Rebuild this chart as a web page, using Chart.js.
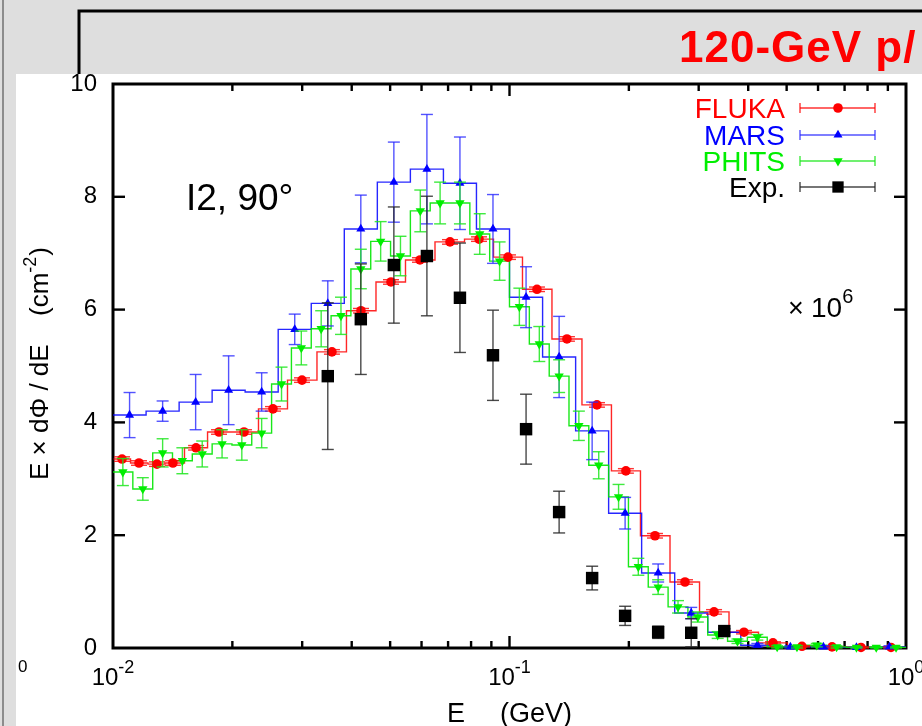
<!DOCTYPE html>
<html>
<head>
<meta charset="utf-8">
<script src="https://cdn.jsdelivr.net/npm/chart.js@4.4.0/dist/chart.umd.min.js"></script>
<style>
  html, body { margin: 0; padding: 0; background: #dedede; }
  #wrap { width: 922px; height: 726px; }
</style>
</head>
<body>
<div id="wrap"><canvas id="spectrum" width="922" height="726"></canvas></div>
<script>
// Neutron spectra at I2, 90 deg: E x dPhi/dE in units of 1e6 cm^-2, E in GeV

const flukaE = [0.01054, 0.01163, 0.01291, 0.01416, 0.0162, 0.01851, 0.0214, 0.02532, 0.02997, 0.03566,
  0.04221, 0.05025, 0.05946, 0.07079, 0.08378, 0.09913, 0.1173, 0.1396, 0.1662, 0.1966,
  0.2328, 0.2771, 0.328, 0.3903, 0.4619, 0.5466, 0.6508, 0.7701, 0.9166];
const flukaY = [3.35, 3.28, 3.26, 3.28, 3.55, 3.83, 3.83, 4.24, 4.75, 5.25,
  5.98, 6.49, 6.88, 7.20, 7.25, 6.93, 6.36, 5.48, 4.31, 3.14,
  1.99, 1.17, 0.64, 0.28, 0.09, 0.03, 0.02, 0.01, 0.01];
const flukaErr = [0.04, 0.04, 0.04, 0.04, 0.04, 0.04, 0.04, 0.04, 0.04, 0.04,
  0.04, 0.04, 0.04, 0.04, 0.04, 0.04, 0.04, 0.04, 0.04, 0.04,
  0.04, 0.04, 0.04, 0.03, 0.02, 0.01, 0.01, 0.01, 0.01];

const marsE = [0.01101, 0.01334, 0.01616, 0.01957, 0.02371, 0.02873, 0.03481, 0.04217, 0.05109, 0.0619,
  0.07499, 0.09085, 0.1101, 0.1334, 0.1616, 0.1957, 0.2371, 0.2873, 0.3481, 0.4217,
  0.5109, 0.619, 0.7499, 0.9085];
const marsY = [4.13, 4.20, 4.36, 4.57, 4.54, 5.65, 6.11, 7.43, 8.26, 8.49,
  8.24, 7.43, 6.22, 5.16, 3.85, 2.39, 1.33, 0.62, 0.28, 0.05,
  0.02, 0.02, 0.01, 0.02];
const marsErr = [0.40, 0.18, 0.49, 0.61, 0.34, 0.27, 0.40, 0.60, 0.71, 0.97,
  0.82, 0.61, 0.54, 0.72, 0.51, 0.28, 0.16, 0.10, 0.06, 0.03,
  0.02, 0.02, 0.01, 0.02];

const phitsE = [0.01059, 0.01189, 0.01334, 0.01496, 0.01679, 0.01884, 0.02113, 0.02371, 0.02661, 0.02985,
  0.0335, 0.03758, 0.04217, 0.04732, 0.05309, 0.05957, 0.06683, 0.07499, 0.08414, 0.09441,
  0.1059, 0.1189, 0.1334, 0.1496, 0.1679, 0.1884, 0.2113, 0.2371, 0.2661, 0.2985,
  0.335, 0.3758, 0.4217, 0.4732, 0.5309, 0.5957, 0.6683, 0.7499, 0.8414, 0.9441];
const phitsY = [3.12, 2.82, 3.46, 3.32, 3.44, 3.62, 3.60, 3.81, 4.68, 5.32,
  5.66, 5.89, 6.72, 7.21, 6.95, 7.75, 7.89, 7.89, 7.34, 6.86,
  6.05, 5.39, 4.82, 3.94, 3.24, 2.68, 1.44, 1.08, 0.73, 0.55,
  0.23, 0.12, 0.19, 0.02, 0.02, 0.05, 0.02, 0.01, 0.01, 0.01];
const phitsErr = [0.24, 0.20, 0.25, 0.23, 0.23, 0.25, 0.27, 0.26, 0.30, 0.30,
  0.32, 0.33, 0.35, 0.35, 0.35, 0.37, 0.37, 0.37, 0.36, 0.34,
  0.33, 0.31, 0.29, 0.26, 0.24, 0.22, 0.15, 0.13, 0.11, 0.09,
  0.06, 0.04, 0.05, 0.02, 0.02, 0.03, 0.02, 0.01, 0.01, 0.01];

const expE = [0.03481, 0.04217, 0.05109, 0.0619, 0.07499, 0.09085, 0.1101, 0.1334, 0.1616, 0.1957,
  0.2371, 0.2873, 0.3481];
const expY = [4.82, 5.83, 6.79, 6.95, 6.21, 5.19, 3.88, 2.41, 1.24, 0.57,
  0.28, 0.27, 0.30];
const expErr = [1.30, 0.98, 1.03, 1.06, 0.97, 0.80, 0.62, 0.37, 0.21, 0.17,
  0.11, 0.25, 0.04];

const xTickValues = [0.01, 0.1, 1];
const xTickExponents = ['-2', '-1', '0'];
const yTickValues = [0, 2, 4, 6, 8, 10];

const FONT = '"Liberation Sans", Arial, sans-serif';

const series = [
  { label: 'FLUKA', color: '#ff0000', line: 'rgba(255,0,0,0.85)', bar: 'rgba(255,0,0,0.8)',
    xs: flukaE, ys: flukaY, err: flukaErr, style: 'circle', radius: 4.8, rotation: 0, cap: 8, step: true, z: 4 },
  { label: 'MARS', color: '#0000ff', line: 'rgba(0,0,255,0.85)', bar: 'rgba(40,40,255,0.8)',
    xs: marsE, ys: marsY, err: marsErr, style: 'triangle', radius: 5.2, rotation: 0, cap: 6, step: true, z: 3 },
  { label: 'PHITS', color: '#00ee00', line: 'rgba(0,230,0,0.9)', bar: 'rgba(30,230,30,0.85)',
    xs: phitsE, ys: phitsY, err: phitsErr, style: 'triangle', radius: 5.4, rotation: 180, cap: 6, step: true, z: 2 },
  { label: 'Exp.', color: '#000000', line: 'rgba(0,0,0,0.7)', bar: 'rgba(40,40,40,0.85)',
    xs: expE, ys: expY, err: expErr, style: 'rect', radius: 8.8, rotation: 0, cap: 6, step: false, z: 1 }
];

// histogram outline: each value spans its bin, edges halfway (in log) between bin centres
function stepPoints(xs, ys) {
  const pts = [];
  for (let i = 0; i < xs.length; i++) {
    const lo = i === 0 ? xs[0] * Math.sqrt(xs[0] / xs[1]) : Math.sqrt(xs[i - 1] * xs[i]);
    const hi = i === xs.length - 1 ? xs[i] * Math.sqrt(xs[i] / xs[i - 1]) : Math.sqrt(xs[i] * xs[i + 1]);
    pts.push({ x: lo, y: ys[i] }, { x: hi, y: ys[i] });
  }
  return pts;
}

const datasets = [];
series.forEach(s => {
  if (s.step) {
    datasets.push({
      label: s.label + ' hist',
      data: stepPoints(s.xs, s.ys),
      showLine: true,
      borderColor: s.line,
      borderWidth: 1.4,
      pointRadius: 0,
      fill: false,
      order: 10 + s.z
    });
  }
  datasets.push({
    label: s.label,
    data: s.xs.map((x, i) => ({ x: x, y: s.ys[i] })),
    showLine: false,
    pointStyle: s.style,
    pointRadius: s.radius,
    pointRotation: s.rotation,
    pointBackgroundColor: s.color,
    pointBorderWidth: 0,
    clip: false,
    order: s.z,
    errors: s.err,
    barColor: s.bar,
    cap: s.cap
  });
});

function line(ctx, x1, y1, x2, y2) {
  ctx.beginPath();
  ctx.moveTo(x1, y1);
  ctx.lineTo(x2, y2);
  ctx.stroke();
}

// text with a raised exponent, e.g. 10^-2; returns the total width
function powerText(ctx, base, exp, x, y, size, supSize, align) {
  ctx.font = size + 'px ' + FONT;
  const wb = ctx.measureText(base).width;
  ctx.font = supSize + 'px ' + FONT;
  const we = ctx.measureText(exp).width;
  let x0 = x;
  if (align === 'center') x0 = x - (wb + we) / 2;
  ctx.font = size + 'px ' + FONT;
  ctx.fillText(base, x0, y);
  ctx.font = supSize + 'px ' + FONT;
  ctx.fillText(exp, x0 + wb, y - size * 0.5);
  return wb + we;
}

const decor = {
  id: 'decor',
  beforeDraw(chart) {
    const ctx = chart.ctx;
    ctx.save();
    ctx.fillStyle = '#dedede';
    ctx.fillRect(0, 0, 922, 726);
    ctx.fillStyle = '#8c8c8c';
    ctx.fillRect(2, 0, 2, 726);
    ctx.fillStyle = '#ffffff';
    ctx.fillRect(16, 74, 906, 652);

    // header box edge
    ctx.strokeStyle = '#000';
    ctx.lineWidth = 3;
    ctx.beginPath();
    ctx.moveTo(79, 74);
    ctx.lineTo(79, 11);
    ctx.lineTo(922, 11);
    ctx.stroke();

    ctx.fillStyle = '#ff0000';
    ctx.font = 'bold 44px ' + FONT;
    ctx.textBaseline = 'alphabetic';
    ctx.letterSpacing = '1px';
    ctx.fillText('120-GeV p/', 679, 62);
    ctx.restore();
  },
  beforeDatasetsDraw(chart) {
    const ctx = chart.ctx;
    const { left, right, top, bottom } = chart.chartArea;
    const xs = chart.scales.x, ys = chart.scales.y;
    ctx.save();
    ctx.strokeStyle = '#000';
    ctx.lineWidth = 2.4;
    yTickValues.forEach(v => {
      if (v <= 0 || v >= 10) return;
      const py = ys.getPixelForValue(v);
      line(ctx, left, py, left + 12, py);
      line(ctx, right, py, right - 12, py);
    });
    for (let d = 0; d < xTickValues.length - 1; d++) {
      for (let m = 1; m <= 9; m++) {
        const v = xTickValues[d] * m;
        const px = xs.getPixelForValue(v);
        const len = m === 1 ? 12 : 7;
        if (m === 1 && d === 0) continue;
        line(ctx, px, bottom, px, bottom - len);
        line(ctx, px, top, px, top + len);
      }
    }
    ctx.lineWidth = 3;
    ctx.strokeRect(left, top, right - left, bottom - top);
    ctx.restore();
  },
  beforeDatasetDraw(chart, args) {
    const ds = chart.data.datasets[args.index];
    if (!ds.errors) return;
    const ctx = chart.ctx;
    const ys = chart.scales.y;
    ctx.save();
    ctx.strokeStyle = ds.barColor;
    ctx.lineWidth = 1.4;
    args.meta.data.forEach((pt, i) => {
      const v = ds.data[i].y, e = ds.errors[i];
      const y1 = ys.getPixelForValue(v + e), y2 = ys.getPixelForValue(v - e);
      line(ctx, pt.x, y1, pt.x, y2);
      line(ctx, pt.x - ds.cap, y1, pt.x + ds.cap, y1);
      line(ctx, pt.x - ds.cap, y2, pt.x + ds.cap, y2);
    });
    ctx.restore();
  },
  afterDraw(chart) {
    const ctx = chart.ctx;
    const xs = chart.scales.x;
    ctx.save();
    ctx.fillStyle = '#000';
    ctx.textBaseline = 'alphabetic';
    ctx.textAlign = 'left';

    // x tick labels
    xTickValues.forEach((v, i) => {
      powerText(ctx, '10', xTickExponents[i], xs.getPixelForValue(v), 685, 24, 18, 'center');
    });

    // stray zero on the left margin
    ctx.font = '17px ' + FONT;
    ctx.fillText('0', 18, 672);

    // x title
    ctx.font = '27px ' + FONT;
    ctx.fillText('E', 447, 722);
    ctx.fillText('(GeV)', 500, 722);

    // y title, rotated
    ctx.save();
    ctx.translate(48, 480);
    ctx.rotate(-Math.PI / 2);
    ctx.font = '26px ' + FONT;
    ctx.fillText('E \u00d7 d\u03a6 / dE', 0, 0);
    ctx.fillText('(cm', 164, 0);
    const wc = ctx.measureText('(cm').width;
    ctx.font = '18px ' + FONT;
    ctx.fillText('-2', 164 + wc, -12);
    const ws = ctx.measureText('-2').width;
    ctx.font = '26px ' + FONT;
    ctx.fillText(')', 164 + wc + ws + 1, 0);
    ctx.restore();

    // annotations
    ctx.font = '37px ' + FONT;
    ctx.fillText('I2, 90\u00b0', 186, 210);
    ctx.font = '27px ' + FONT;
    ctx.fillText('\u00d7', 788, 317);
    powerText(ctx, '10', '6', 811, 317, 28, 20, 'left');

    // legend
    const rows = [108, 135, 161, 187];
    series.forEach((s, i) => {
      const y = rows[i];
      ctx.font = '28px ' + FONT;
      ctx.textAlign = 'right';
      ctx.fillStyle = s.color;
      ctx.fillText(s.label, 785, y + 10);
      ctx.textAlign = 'left';
      ctx.strokeStyle = s.bar;
      ctx.lineWidth = 1.4;
      line(ctx, 800, y, 875, y);
      line(ctx, 800, y - 5, 800, y + 5);
      line(ctx, 875, y - 5, 875, y + 5);
      ctx.fillStyle = s.color;
      Chart.helpers.drawPoint(ctx, {
        pointStyle: s.style,
        radius: s.style === 'rect' ? 8 : s.radius,
        rotation: s.rotation,
        borderWidth: 0
      }, 838, y);
    });
    ctx.restore();
  }
};

new Chart(document.getElementById('spectrum'), {
  type: 'scatter',
  data: { datasets: datasets },
  options: {
    responsive: false,
    animation: false,
    devicePixelRatio: 1,
    layout: { padding: { left: 0, top: 84, right: 16, bottom: 0 } },
    scales: {
      x: {
        type: 'logarithmic',
        min: 0.01,
        max: 1,
        grid: { display: false, drawTicks: false },
        border: { display: false },
        ticks: { display: false },
        afterFit: scale => { scale.height = 78; }
      },
      y: {
        type: 'linear',
        min: 0,
        max: 10,
        grid: { display: false, drawTicks: false },
        border: { display: false },
        ticks: {
          stepSize: 2,
          padding: 16,
          color: '#000',
          font: { family: FONT, size: 24 }
        },
        afterBuildTicks: scale => { scale.ticks = yTickValues.map(v => ({ value: v })); },
        afterFit: scale => { scale.width = 113; }
      }
    },
    plugins: {
      legend: { display: false },
      tooltip: { enabled: false }
    }
  },
  plugins: [decor]
});
</script>
</body>
</html>
